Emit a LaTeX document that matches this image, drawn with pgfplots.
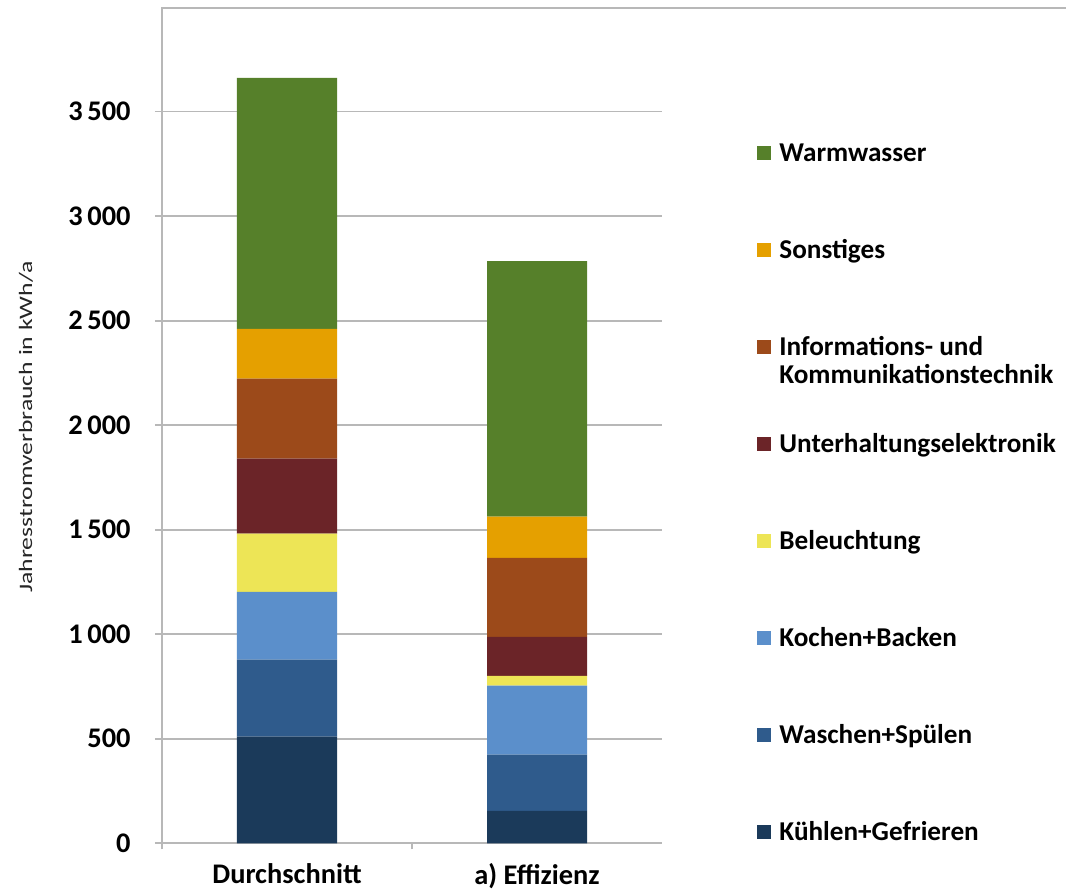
\documentclass[border=0pt]{standalone}
\usepackage{pgfplots}
\pgfplotsset{compat=1.18}
\usepackage{fontspec}
\usepackage{graphicx}
\setmainfont{Carlito}

\definecolor{cWarm}{RGB}{86,128,42}
\definecolor{cSonst}{RGB}{229,160,0}
\definecolor{cInfo}{RGB}{156,74,26}
\definecolor{cUnter}{RGB}{107,36,40}
\definecolor{cLicht}{RGB}{237,229,86}
\definecolor{cKoch}{RGB}{91,143,203}
\definecolor{cWasch}{RGB}{47,91,140}
\definecolor{cKuehl}{RGB}{27,58,90}
\colorlet{gridgray}{black!28}

\begin{document}
\begin{tikzpicture}
\path[use as bounding box] (0,0) rectangle (533pt,445.5pt);
\begin{axis}[
  at={(81pt,23.85pt)}, anchor=south west,
  scale only axis, width=250pt, height=418.15pt,
  ybar stacked, bar width=50pt,
  xmin=-0.5, xmax=1.5, ymin=0, ymax=4000,
  axis x line*=bottom, axis y line*=left,
  axis line style={draw=gridgray, line width=0.9pt, -},
  xtick={0,1}, xticklabels={Durchschnitt, a) Effizienz},
  xtick style={draw=none},
  extra x ticks={-0.5,0.5}, extra x tick labels={},
  extra x tick style={xtick style={draw=gridgray, line width=0.9pt}, major tick length=3pt, tick align=outside, grid=none},
  ytick={0,500,...,3500},
  ytick style={draw=gridgray, line width=0.9pt},
  major tick length=3.5pt, tick align=outside,
  ymajorgrids, grid style={draw=gridgray, line width=0.9pt},
  /pgf/number format/.cd, fixed, 1000 sep={\,}, assume math mode=true, /pgfplots/.cd,
  ticklabel style={font=\bfseries\fontsize{14.2}{14}\selectfont},
  yticklabel style={inner sep=0pt, xshift=-12pt},
  xticklabel style={inner sep=0pt, yshift=-6.5pt},
  ylabel={\scalebox{1.35}[1]{\fontsize{9.5}{10}\selectfont Jahresstromverbrauch in kWh/a}},
  ylabel style={at={(axis description cs:-0.272,0.498)}, anchor=center, rotate=0, text=black!85},
  reverse legend,
  legend image code/.code={\fill[#1] (0pt,0.5pt) rectangle (7pt,7.8pt);},
  legend style={at={(1.19,0.8398)}, anchor=north west, draw=none, fill=none,
    inner sep=0pt, row sep=20.5pt, column sep=4pt,
    nodes={inner sep=0pt, text height=10pt, text depth=18pt, anchor=base west},
    font=\bfseries\fontsize{13.6}{14}\selectfont},
  legend cell align=left,
]
% bottom to top: one series per consumption area, values in kWh/a
\addplot[fill=cKuehl, draw=none] coordinates {(0,510) (1,155)};
\addlegendentry{Kühlen+Gefrieren}
\addplot[fill=cWasch, draw=none] coordinates {(0,368) (1,269)};
\addlegendentry{Waschen+Spülen}
\addplot[fill=cKoch, draw=none] coordinates {(0,325) (1,330)};
\addlegendentry{Kochen+Backen}
\addplot[fill=cLicht, draw=none] coordinates {(0,278) (1,47)};
\addlegendentry{Beleuchtung}
\addplot[fill=cUnter, draw=none] coordinates {(0,359) (1,186)};
\addlegendentry{Unterhaltungselektronik}
\addplot[fill=cInfo, draw=none] coordinates {(0,382) (1,378)};
\addlegendentry{\vtop{\hbox{Informations- und}\hbox{Kommunikationstechnik}}}
\addplot[fill=cSonst, draw=none] coordinates {(0,239) (1,198)};
\addlegendentry{Sonstiges}
\addplot[fill=cWarm, draw=none] coordinates {(0,1200) (1,1222)};
\addlegendentry{Warmwasser}
\end{axis}
% upper frame line of the chart area
\draw[gridgray, line width=0.9pt] (81pt,441.5pt) -- (533pt,441.5pt);
\end{tikzpicture}
\end{document}
